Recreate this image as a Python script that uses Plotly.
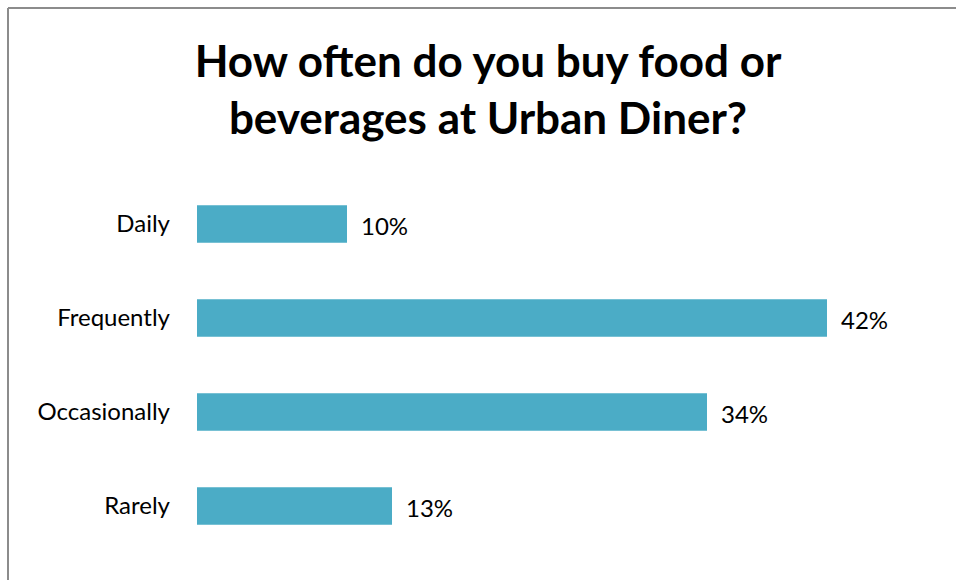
import plotly.graph_objects as go

# Survey responses
categories = ["Daily", "Frequently", "Occasionally", "Rarely"]
shares = [10, 42, 34, 13]
labels = ["10%", "42%", "34%", "13%"]

W, H = 956, 580
ML, MR, MT, MB = 197, 39, 177, 27
FONT = "Lato, sans-serif"

fig = go.Figure(
    go.Bar(
        x=shares,
        y=categories,
        orientation="h",
        marker=dict(color="#4BACC6", line=dict(width=0)),
        hoverinfo="skip",
    )
)

# Value labels to the right of each bar
for cat, val, lab in zip(categories, shares, labels):
    fig.add_annotation(
        x=val, y=cat, text=lab, showarrow=False,
        xanchor="left", yanchor="middle", xshift=12, yshift=-1,
        font=dict(family=FONT, size=24, color="#000000"),
    )

# Frame lines along top and left edge, placed in pixel terms via paper coordinates
pw = W - ML - MR
ph = H - MT - MB
def px_x(p):
    return (p - ML) / pw
def px_y(p):
    return 1 - (p - MT) / ph

fig.add_shape(type="line", xref="paper", yref="paper",
              x0=px_x(8), x1=px_x(W + 5), y0=px_y(8), y1=px_y(8),
              line=dict(color="#8C8C8C", width=2))
fig.add_shape(type="line", xref="paper", yref="paper",
              x0=px_x(8), x1=px_x(8), y0=px_y(8), y1=px_y(H + 5),
              line=dict(color="#8C8C8C", width=2))

fig.update_layout(
    width=W,
    height=H,
    margin=dict(l=ML, r=MR, t=MT, b=MB, autoexpand=False),
    paper_bgcolor="white",
    plot_bgcolor="white",
    showlegend=False,
    bargap=0.6,
    title=dict(
        text="How often do you buy food or<br>beverages at Urban Diner?",
        x=488 / W,
        xanchor="center",
        y=1 - 77 / H,
        yanchor="middle",
        yref="container",
        font=dict(family=FONT, size=44, color="#000000", weight="bold"),
    ),
    xaxis=dict(range=[0, 48], visible=False, fixedrange=True),
    yaxis=dict(
        autorange="reversed",
        showline=False,
        showgrid=False,
        zeroline=False,
        ticks="",
        ticklabelstandoff=26,
        tickfont=dict(family=FONT, size=24, color="#000000"),
        fixedrange=True,
    ),
)

fig.write_html("out.html")
